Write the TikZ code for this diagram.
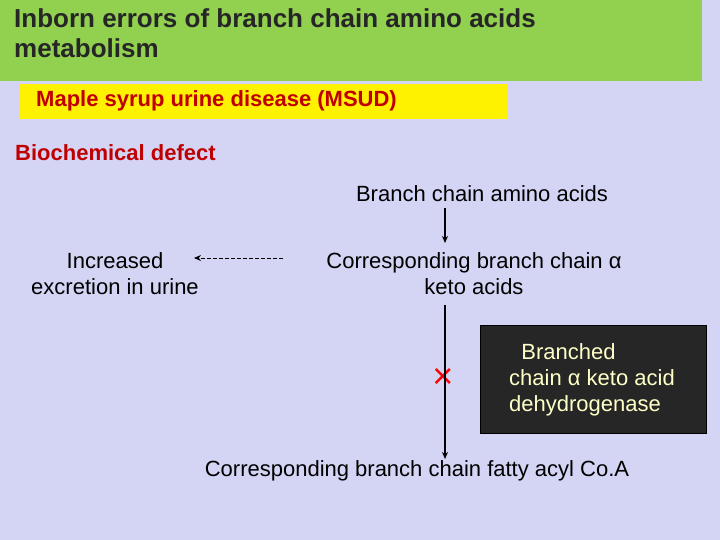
\documentclass[tikz,border=0pt]{standalone}
\usepackage{fontspec}
\usetikzlibrary{arrows.meta}
\setmainfont{Liberation Sans}
\begin{document}
\begin{tikzpicture}[x=1pt,y=-1pt,
  txt/.style={inner sep=0pt,font=\fontsize{22}{26}\selectfont},
  arr/.style={-{Stealth[length=7pt,width=6pt]},line width=1.3pt}]
\fill[fill={rgb,255:red,212;green,212;blue,244}] (0,0) rectangle (720,540);
\useasboundingbox (0,0) rectangle (720,540);
\fill[fill={rgb,255:red,146;green,208;blue,80}] (0,0) rectangle (702,81);
\node[txt,anchor=north west,align=left,font=\fontsize{26}{30}\selectfont\bfseries,text=black!85] (title) at (14,8) {Inborn errors of branch chain amino acids\\ metabolism};
\fill[yellow] (20,84) rectangle (508,119);
\node[txt,anchor=west,font=\fontsize{22}{26}\selectfont\bfseries,text={rgb,255:red,192;green,0;blue,0}] (msud) at (36,101) {Maple syrup urine disease (MSUD)};
\node[txt,anchor=west,font=\fontsize{22}{26}\selectfont\bfseries,text={rgb,255:red,192;green,0;blue,0}] (bio) at (15,153) {Biochemical defect};
\node[txt] (bcaa) at (482,194) {Branch chain amino acids};
\node[txt,align=center] (keto) at (474,274) {Corresponding branch chain α\\keto acids};
\node[txt,align=center] (inc) at (115,274) {Increased\\excretion in urine};
\node[txt] (fatty) at (417,471) {Corresponding branch chain fatty acyl Co.A};
\node[draw=black,fill={rgb,255:red,38;green,38;blue,38},minimum width=226pt,minimum height=108pt,inner sep=0pt] (box) at (593,379) {};
\node[txt,align=left,text={rgb,255:red,255;green,255;blue,200}] (enz) at (592,380) {\ \ Branched\\chain α keto acid\\ dehydrogenase};
\node[txt,font=\fontsize{36}{36}\selectfont,text=red] (x) at (443,378) {×};
\coordinate (a1) at (445,208); \coordinate (a2) at (445,243);
\coordinate (b1) at (445,305); \coordinate (b2) at (445,459);
\coordinate (c1) at (283,258); \coordinate (c2) at (194,258);
\draw[arr] (a1) -- (a2);
\draw[arr] (b1) -- (b2);
\draw[arr,dash pattern=on 4pt off 2pt,line width=1pt] (c1) -- (c2);
\end{tikzpicture}
\end{document}
